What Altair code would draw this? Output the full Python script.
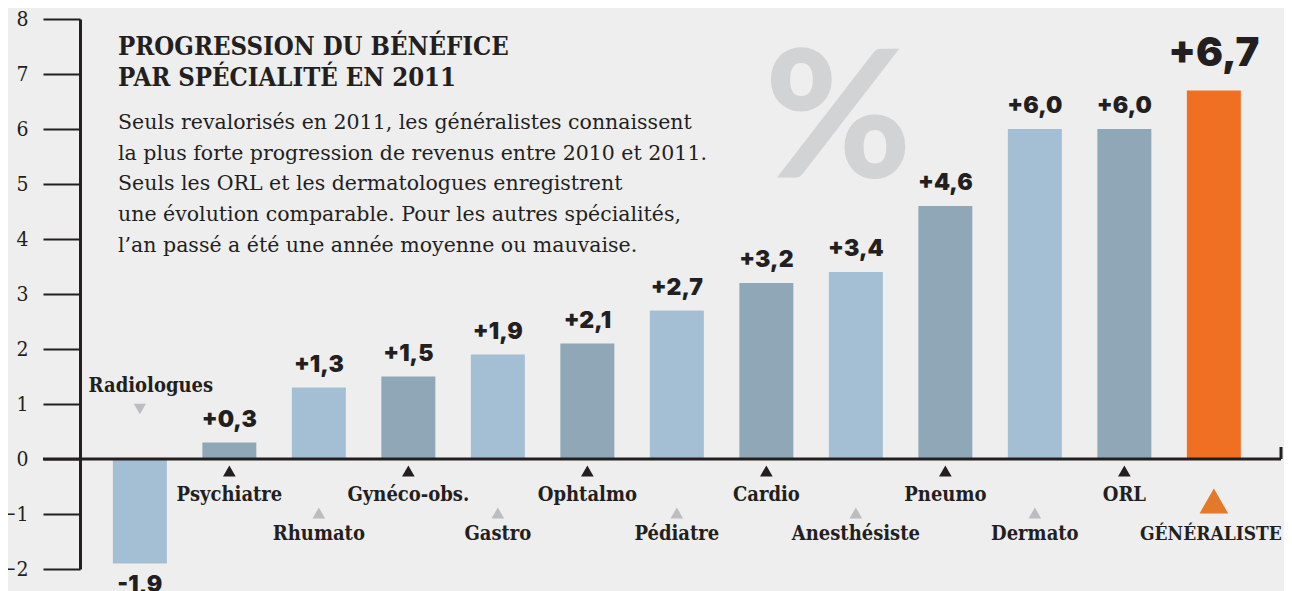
import altair as alt
import pandas as pd

# ---- data ----
categories = ["Radiologues", "Psychiatre", "Rhumato", "Gynéco-obs.", "Gastro", "Ophtalmo",
              "Pédiatre", "Cardio", "Anesthésiste", "Pneumo", "Dermato", "ORL", "GÉNÉRALISTE"]
values = [-1.9, 0.3, 1.3, 1.5, 1.9, 2.1, 2.7, 3.2, 3.4, 4.6, 6.0, 6.0, 6.7]
y_ticks = [-2, -1, 0, 1, 2, 3, 4, 5, 6, 7, 8]
title_lines = ["PROGRESSION DU BÉNÉFICE", "PAR SPÉCIALITÉ EN 2011"]
para_lines = [
    "Seuls revalorisés en 2011, les généralistes connaissent",
    "la plus forte progression de revenus entre 2010 et 2011.",
    "Seuls les ORL et les dermatologues enregistrent",
    "une évolution comparable. Pour les autres spécialités,",
    "l\u2019an passé a été une année moyenne ou mauvaise.",
]

n = len(categories)
rows = []
for i, (c, v) in enumerate(zip(categories, values)):
    if i == n - 1:
        group, lab = "highlight", "main"
    elif i % 2 == 0:
        group, lab = "light", ("above" if i == 0 else "row2")
    else:
        group, lab = "dark", "row1"
    txt = ("+" if v > 0 else "-") + f"{abs(v):.1f}".replace(".", ",")
    rows.append(dict(cat=c, value=v, group=group, lab=lab, txt=txt))
df = pd.DataFrame(rows)

INK = "#231f20"
SERIF_C = "DejaVu Serif Condensed, DejaVu Serif"
SERIF = "DejaVu Serif"
SANS = "Inter"
W, H = 1201, 550

x = alt.X("cat:N", sort=categories,
          scale=alt.Scale(paddingInner=0.397, paddingOuter=0.408, align=0.45), axis=None)
yaxis = alt.Axis(values=y_ticks, title=None, grid=False, domainColor=INK, domainWidth=3,
                 tickColor=INK, tickWidth=2, tickSize=37, labelFont=SERIF_C, labelFontSize=21,
                 labelColor=INK, labelPadding=15, labelAlign="right")
y = alt.Y("value:Q", scale=alt.Scale(domain=[-2, 8], nice=False, zero=True), axis=yaxis)

base = alt.Chart(df)

bars = base.mark_bar().encode(
    x=x, y=y,
    color=alt.Color("group:N", scale=alt.Scale(domain=["light", "dark", "highlight"],
                                               range=["#a4bfd4", "#8fa7b6", "#f07023"]),
                    legend=None),
)

pos_lbl = base.transform_filter("datum.value > 0 && datum.group != 'highlight'").mark_text(
    font=SANS, fontWeight=900, fontSize=23, color=INK, baseline="alphabetic", dy=-16
).encode(x=x, y=alt.Y("value:Q"), text="txt:N")

neg_lbl = base.transform_filter("datum.value < 0").mark_text(
    font=SANS, fontWeight=900, fontSize=23, color=INK, baseline="alphabetic", dy=28
).encode(x=x, y=alt.Y("value:Q"), text="txt:N")

big_lbl = base.transform_filter("datum.group == 'highlight'").mark_text(
    font=SANS, fontWeight=900, fontSize=40, color=INK, baseline="alphabetic", dy=-25
).encode(x=x, y=alt.Y("value:Q"), text="txt:N")

def cat_text(lab, ypix, dx=0, size=20):
    return base.transform_filter(f"datum.lab == '{lab}'").mark_text(
        font=SERIF_C, fontWeight="bold", fontSize=size, color=INK, baseline="middle", dx=dx
    ).encode(x=x, y=alt.value(ypix), text="cat:N")

def tri(lab, ypix, shape, color, size):
    return base.transform_filter(f"datum.lab == '{lab}'").mark_point(
        shape=shape, filled=True, opacity=1, size=size, color=color, strokeWidth=0
    ).encode(x=x, y=alt.value(ypix))

labels = [
    cat_text("above", 367, dx=11), tri("above", 390, "triangle-down", "#bcbdc0", 150),
    cat_text("row1", 476), tri("row1", 452, "triangle-up", INK, 160),
    cat_text("row2", 515), tri("row2", 494, "triangle-up", "#bcbdc0", 160),
    cat_text("main", 515, dx=-3, size=19), tri("main", 482, "triangle-up", "#e5792a", 820),
]

zero = pd.DataFrame({"v": [0]})
baseline = alt.Chart(zero).mark_rule(color=INK, strokeWidth=3).encode(
    y=alt.Y("v:Q"), x=alt.value(-37), x2=alt.value(W))
endtick = alt.Chart(zero).mark_rule(color=INK, strokeWidth=3).encode(
    y=alt.Y("v:Q"), y2=alt.value(428), x=alt.value(W))

title_df = pd.DataFrame({"t": ["\n".join(title_lines)]})
title = alt.Chart(title_df).mark_text(
    font=SERIF_C, fontWeight="bold", fontSize=25.5, color=INK, align="left",
    baseline="alphabetic", lineBreak="\n", lineHeight=31
).encode(x=alt.value(38), y=alt.value(36), text="t:N")

para_df = pd.DataFrame({"t": ["\n".join(para_lines)]})
para = alt.Chart(para_df).mark_text(
    font=SERIF, fontSize=20.5, color=INK, align="left",
    baseline="alphabetic", lineBreak="\n", lineHeight=30.7
).encode(x=alt.value(38), y=alt.value(110), text="t:N")

pct_df = pd.DataFrame({"t": ["%"]})
pct = alt.Chart(pct_df).mark_text(
    font="Lato", fontWeight=900, fontSize=178, color="#d2d3d5", align="center", baseline="middle"
).encode(x=alt.value(758), y=alt.value(105), text="t:N")

chart = alt.layer(
    pct, bars, baseline, endtick, pos_lbl, neg_lbl, big_lbl, *labels, title, para
).properties(
    width=W, height=H,
    padding={"left": 72, "top": 11, "right": 3, "bottom": 22},
    autosize=alt.AutoSizeParams(type="none"),
    background="#eeeeee",
).configure_view(stroke=None)

chart.save("out.html", embed_options={"renderer": "svg", "actions": False})
